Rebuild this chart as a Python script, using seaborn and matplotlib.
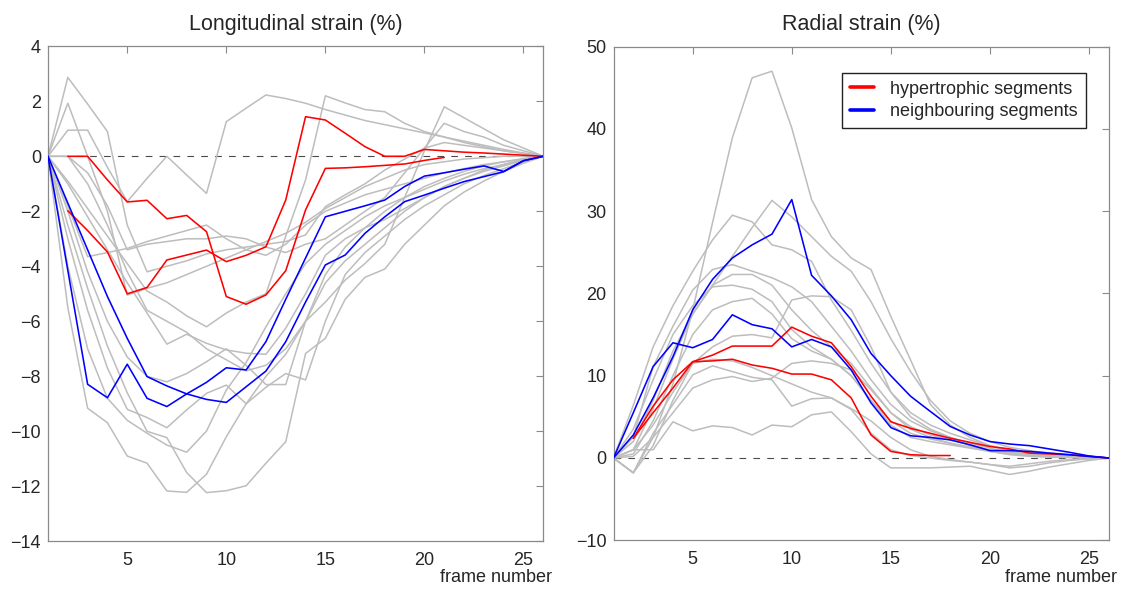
import numpy as np
import pandas as pd
import matplotlib
matplotlib.use("Agg")
import matplotlib.pyplot as plt
import seaborn as sns
from matplotlib.lines import Line2D

nan = np.nan
frames = list(range(1, 27))

# ---------------- Longitudinal strain (%) ----------------
long_gray = [
    [0, 0.95, 0.95, -0.4, -1.65, -0.8, 0.0, -0.68, -1.35, 1.26, 1.75, 2.23, 2.1, 1.93, 1.7, 1.5, 1.3, 1.15, 1.0, 0.85, 0.7, 0.55, 0.4, 0.25, 0.12, 0],
    [0, 2.87, 1.9, 0.9, -2.5, -4.2, -4.0, -3.8, -3.55, -3.4, -3.3, -3.2, -3.1, -2.86, -1.83, -1.4, -1.0, -0.5, -0.1, 0.3, 0.5, 0.4, 0.3, 0.2, 0.1, 0],
    [0, 1.93, 0.0, -2.0, -5.05, -4.8, -4.6, -4.3, -4.0, -3.7, -3.4, -3.1, -2.8, -2.4, -1.9, -1.5, -1.1, -0.8, -0.5, -0.3, -0.2, -0.1, -0.05, 0.0, 0.0, 0],
    [0, -5.5, -9.16, -9.69, -10.9, -11.16, -12.17, -12.22, -11.56, -10.2, -9.0, -8.0, -7.2, -6.0, -4.6, -3.8, -3.2, -2.6, -2.0, -1.5, -1.1, -0.8, -0.55, -0.35, -0.15, 0],
    [0, -2.5, -4.8, -6.9, -8.6, -10.0, -10.23, -11.5, -12.23, -12.16, -11.98, -11.16, -10.38, -7.17, -6.62, -5.2, -4.4, -4.1, -3.2, -2.5, -1.8, -1.3, -0.9, -0.55, -0.25, 0],
    [0, -1.0, -2.2, -3.4, -4.6, -5.7, -6.83, -6.47, -6.8, -7.04, -7.16, -7.2, -6.25, -5.0, -3.6, -3.0, -2.6, -2.3, -1.9, -1.5, -1.1, -0.8, -0.5, -0.3, -0.12, 0],
    [0, -3.0, -5.6, -7.7, -9.2, -9.5, -9.87, -9.22, -8.62, -8.32, -9.0, -8.4, -7.9, -8.13, -6.0, -4.3, -3.5, -2.9, -2.3, -1.8, -1.4, -1.0, -0.7, -0.45, -0.2, 0],
    [0, -4.0, -7.0, -8.8, -9.6, -10.07, -10.5, -10.76, -9.99, -8.5, -7.5, -6.2, -5.0, -3.9, -3.2, -2.7, -2.2, -1.8, -1.5, -1.2, -0.9, -0.65, -0.45, -0.3, -0.12, 0],
    [0, -0.9, -1.9, -2.9, -3.9, -4.9, -5.3, -5.8, -6.2, -5.7, -5.3, -5.0, -2.9, -0.86, 2.2, 1.94, 1.7, 1.62, 1.2, 0.9, 0.7, 0.5, 0.35, 0.2, 0.1, 0],
    [0, 0, -1.0, -2.5, -4.2, -5.6, -6.0, -6.4, -7.0, -7.4, -7.8, -7.6, -7.0, -6.0, -5.3, -4.5, -3.9, -3.2, -1.5, 0.2, 1.8, 1.4, 1.0, 0.6, 0.3, 0],
    [0, 0, -0.6, -1.8, -3.4, -3.2, -3.1, -3.0, -3.0, -2.9, -3.0, -3.3, -3.5, -3.2, -3.0, -2.5, -2.0, -1.5, -0.6, 0.3, 1.2, 0.9, 0.7, 0.4, 0.2, 0],
    [0, -1.8, -3.65, -3.5, -3.35, -3.1, -2.9, -2.7, -2.5, -3.0, -3.4, -3.6, -3.2, -2.5, -2.0, -1.7, -1.4, -1.2, -1.0, -0.8, -0.6, -0.45, -0.3, -0.2, -0.1, 0],
    [0, -2.0, -4.2, -6.0, -7.3, -8.0, -8.2, -7.9, -7.47, -7.0, -7.6, -8.3, -8.3, -6.0, -4.3, -3.3, -2.6, -2.0, -1.5, -1.1, -0.8, -0.55, -0.35, -0.2, -0.08, 0],
]
long_red = [
    [nan, 0, 0, -0.86, -1.66, -1.6, -2.27, -2.15, -2.74, -5.1, -5.38, -5.04, -4.16, -1.95, -0.44, -0.42, -0.38, -0.33, -0.28, -0.15, -0.04, nan, nan, nan, nan, nan],
    [nan, -1.98, -2.7, -3.48, -5.0, -4.77, -3.77, -3.59, -3.41, -3.83, -3.6, -3.29, -1.59, 1.44, 1.32, 0.84, 0.35, 0.0, 0.0, 0.25, 0.2, 0.15, 0.12, 0.08, 0.04, 0],
]
long_blue = [
    [0, -4.15, -8.29, -8.78, -7.56, -8.8, -9.1, -8.64, -8.22, -7.69, -7.77, -6.74, -5.2, -3.7, -2.2, -2.0, -1.8, -1.59, -1.1, -0.72, -0.6, -0.47, -0.35, -0.55, -0.16, 0],
    [0, -1.7, -3.4, -5.1, -6.62, -8.01, -8.35, -8.64, -8.84, -8.95, -8.38, -7.81, -6.74, -5.3, -3.95, -3.59, -2.8, -2.2, -1.65, -1.41, -1.16, -0.92, -0.74, -0.56, -0.16, 0],
]

# ---------------- Radial strain (%) ----------------
rad_gray = [
    [0, -1.8, 2.5, 9.0, 18.0, 28.6, 38.9, 46.2, 47.0, 40.1, 31.4, 26.9, 24.3, 22.9, 17.2, 11.9, 6.5, 4.0, 2.5, 1.5, 0.8, 0.5, 0.3, 0.2, 0.1, 0],
    [0, 6.4, 13.5, 18.5, 22.7, 26.5, 29.5, 28.7, 25.9, 25.3, 23.9, 19.2, 15.5, 11.5, 8.0, 5.5, 4.0, 3.0, 2.2, 1.5, 1.0, 0.7, 0.5, 0.3, 0.1, 0],
    [0, 2.0, 7.0, 13.0, 17.5, 21.0, 24.5, 28.0, 31.3, 29.3, 26.9, 24.5, 22.7, 19.0, 14.5, 10.5, 7.0, 4.5, 3.0, 2.0, 1.3, 0.9, 0.6, 0.35, 0.15, 0],
    [0, 2.5, 11.1, 16.0, 20.4, 22.9, 23.5, 22.7, 21.9, 20.8, 19.0, 16.0, 13.0, 9.5, 6.5, 4.5, 3.3, 2.5, 1.8, 1.2, 0.7, 0.5, 0.3, 0.2, 0.1, 0],
    [0, 1.0, 6.0, 12.0, 17.5, 21.0, 22.3, 22.3, 21.0, 18.0, 15.5, 13.5, 11.5, 8.5, 5.5, 3.8, 2.8, 2.2, 1.6, 1.0, 0.6, 0.4, 0.25, 0.15, 0.05, 0],
    [0, 0.5, 4.5, 10.0, 15.0, 18.0, 19.0, 19.4, 17.5, 14.5, 13.0, 12.0, 10.0, 7.0, 4.0, 2.5, 2.0, 1.6, 1.2, 0.8, 0.4, 0.2, 0.1, 0.05, 0.0, 0],
    [0, 1.0, 4.0, 8.0, 11.5, 13.5, 14.8, 15.0, 14.6, 19.2, 19.7, 19.6, 18.0, 13.5, 8.0, 5.0, 3.5, 2.5, 1.5, 0.8, 0.5, 0.3, 0.2, 0.1, 0.05, 0],
    [0, -1.8, 3.0, 6.5, 10.1, 11.2, 10.5, 9.8, 9.5, 6.3, 7.2, 7.3, 5.9, 3.0, 1.0, 0.3, 0.0, -0.3, -0.5, -0.8, -1.0, -0.7, -0.4, -0.2, -0.1, 0],
    [0, 0.2, 2.5, 5.5, 8.5, 9.5, 9.9, 9.3, 9.7, 11.5, 11.8, 11.5, 10.7, 8.3, 5.5, 3.5, 2.5, 1.8, 1.3, 0.9, 0.6, 0.4, 0.25, 0.15, 0.05, 0],
    [0, 1.0, 1.0, 4.4, 3.3, 3.9, 3.7, 2.8, 4.0, 3.8, 5.25, 5.6, 3.2, 0.5, -1.2, -1.2, -1.2, -1.1, -1.0, -1.5, -2.0, -1.6, -1.1, -0.7, -0.3, 0],
    [0, -1.8, 1.5, 7.0, 11.5, 12.0, 11.8, 11.0, 10.0, 9.0, 8.0, 7.3, 6.0, 4.5, 2.5, 1.0, 0.2, -0.2, -0.5, -0.8, -1.2, -1.0, -0.6, -0.3, -0.1, 0],
    [0, 3.5, 9.5, 15.0, 18.5, 20.8, 21.0, 20.5, 19.0, 15.6, 13.5, 12.0, 10.0, 7.0, 4.5, 3.0, 2.3, 1.8, 1.3, 0.9, 0.5, 0.35, 0.2, 0.1, 0.05, 0],
]
rad_red = [
    [nan, 2.4, 6.3, 9.5, 11.7, 12.5, 13.6, 13.6, 13.6, 15.9, 14.8, 14.0, 11.1, 7.5, 4.4, 3.6, 3.0, 2.4, 1.9, 1.4, 1.1, 0.6, 0.5, 0.4, 0.2, 0],
    [nan, 2.4, 5.5, 8.5, 11.7, 11.8, 12.0, 11.3, 10.9, 10.2, 10.2, 9.5, 7.3, 2.8, 0.8, 0.4, 0.3, 0.3, nan, nan, nan, nan, nan, nan, nan, nan],
]
rad_blue = [
    [0, 2.8, 7.3, 12.3, 18.0, 21.7, 24.3, 25.9, 27.2, 31.4, 22.2, 19.7, 16.8, 12.7, 10.0, 7.5, 5.65, 3.83, 2.8, 2.0, 1.7, 1.5, 1.1, 0.7, 0.25, 0],
    [0, 5.5, 11.1, 14.0, 13.4, 14.4, 17.4, 16.2, 15.7, 13.5, 14.4, 13.5, 10.7, 6.7, 3.7, 2.7, 2.5, 2.2, 1.6, 0.9, 0.9, 0.8, 0.6, 0.4, 0.2, 0],
]

titles = ["Longitudinal strain (%)", "Radial strain (%)"]
legend_labels = ["hypertrophic segments", "neighbouring segments"]
x_ticks = [5, 10, 15, 20, 25]
long_yticks = list(range(-14, 5, 2))
rad_yticks = list(range(-10, 51, 10))

sns.set_style("white")
plt.rcParams['font.family'] = ['Liberation Sans', 'DejaVu Sans']

GRAY = '#bdbdbd'
AXC = '#8a8a8a'
TXT = '#262626'


def to_long(series_list, prefix):
    rows = []
    for i, vals in enumerate(series_list):
        seg = 0
        gap = True
        for f, v in zip(frames, vals):
            if v is None or (isinstance(v, float) and np.isnan(v)):
                gap = True
                continue
            if gap:
                seg += 1
                gap = False
            rows.append((f, v, f"{prefix}{i}_{seg}"))
    return pd.DataFrame(rows, columns=['frame', 'value', 'unit'])


fig = plt.figure(figsize=(11.27, 5.92), dpi=100)
W, H = 1127, 592
ax1 = fig.add_axes([48 / W, 1 - 541.3 / H, 495.3 / W, 495.0 / H])
ax2 = fig.add_axes([613.5 / W, 1 - 540.3 / H, 495.2 / W, 493.8 / H])

panels = [
    (ax1, long_gray, long_red, long_blue, (-14, 4), long_yticks, titles[0], 495.0, 541.3),
    (ax2, rad_gray, rad_red, rad_blue, (-10, 50), rad_yticks, titles[1], 493.8, 540.3),
]

for ax, gray, red, blue, ylim, yticks, title, hpx, bpx in panels:
    ax.axhline(0, color='#4a4a4a', ls=(0, (6, 6.5)), lw=0.8, zorder=1)
    sns.lineplot(data=to_long(gray, 'g'), x='frame', y='value', units='unit',
                 estimator=None, color=GRAY, lw=1.1, ax=ax, legend=False, zorder=2)
    sns.lineplot(data=to_long(red, 'r'), x='frame', y='value', units='unit',
                 estimator=None, color='#ff0000', lw=1.15, ax=ax, legend=False, zorder=3)
    sns.lineplot(data=to_long(blue, 'b'), x='frame', y='value', units='unit',
                 estimator=None, color='#0000ff', lw=1.15, ax=ax, legend=False, zorder=3)
    ax.set_xlim(1, 26)
    ax.set_ylim(*ylim)
    ax.set_xticks(x_ticks)
    ax.set_yticks(yticks)
    ax.set_xlabel('')
    ax.set_ylabel('')
    for s in ax.spines.values():
        s.set_visible(True)
        s.set_color(AXC)
        s.set_linewidth(0.9)
    ax.tick_params(direction='in', top=True, right=True, length=5, width=0.8,
                   color=AXC, labelcolor=TXT, labelsize=13)
    ax.tick_params(axis='x', pad=8)
    ax.tick_params(axis='y', pad=5)
    ax.set_title(title, fontsize=15.5, color=TXT, pad=12)
    ax.text(1 + 8.5 / 495, (bpx - 577) / hpx, 'frame number', transform=ax.transAxes,
            ha='right', va='center', fontsize=13, color=TXT)

handles = [Line2D([], [], color='#ff0000', lw=2.6), Line2D([], [], color='#0000ff', lw=2.6)]
leg = ax2.legend(handles, legend_labels, loc='upper right', bbox_to_anchor=(0.9535, 0.947),
                 borderaxespad=0, frameon=True, fancybox=False, framealpha=1,
                 edgecolor='#222222', fontsize=13, handlelength=1.3, handletextpad=0.9,
                 borderpad=0.45, labelspacing=0.3)
leg.get_frame().set_linewidth(1.0)
for t in leg.get_texts():
    t.set_color(TXT)

fig.savefig('out.png', dpi=100)
